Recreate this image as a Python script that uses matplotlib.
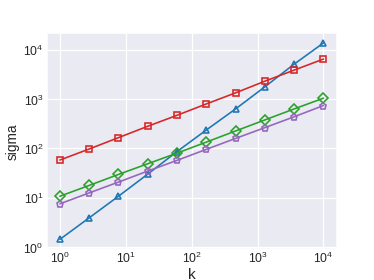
import matplotlib
matplotlib.use("Agg")
import matplotlib.pyplot as plt
import seaborn as sns

k = [1, 2.78, 7.74, 21.5, 59.9, 167, 464, 1292, 3594, 10000]
sigma_blue = [1.43, 3.9, 10.7, 30, 86, 236, 630, 1770, 5100, 13700]
sigma_red = [58, 97, 165, 280, 468, 796, 1335, 2300, 3860, 6460]
sigma_green = [10.7, 17.7, 29.6, 48.7, 80, 134, 225, 377, 630, 1040]
sigma_purple = [7.5, 12.5, 20.7, 34.6, 57, 95.5, 159, 263, 437, 738]

sns.set_theme(style="darkgrid", context="talk")
plt.rcParams["font.family"] = ["Liberation Sans", "DejaVu Sans"]
plt.rcParams["mathtext.fontset"] = "custom"
plt.rcParams["mathtext.rm"] = "Liberation Sans"
plt.rcParams["mathtext.it"] = "Liberation Sans:italic"
plt.rcParams["mathtext.bf"] = "Liberation Sans:bold"

fig, ax = plt.subplots(figsize=(6.4, 4.8), dpi=58.44)
opts = dict(lw=2.0, ms=8, mew=2.0, mfc="none")
ax.plot(k, sigma_blue, "^-", color="#1f77b4", **opts)
ax.plot(k, sigma_red, "s-", color="#d62728", **opts)
ax.plot(k, sigma_green, "D-", color="#2ca02c", **opts)
ax.plot(k, sigma_purple, "p-", color="#9467bd", **opts)
ax.set_xscale("log")
ax.set_yscale("log")
ax.tick_params(which="both", length=0)
ax.tick_params(axis="x", labelsize=15, pad=2)
ax.tick_params(axis="y", labelsize=15, pad=4)
ax.set_xlabel("k", fontsize=19, labelpad=2)
ax.set_ylabel("sigma", fontsize=17, labelpad=4)
fig.savefig("out.png", dpi=58.44)
